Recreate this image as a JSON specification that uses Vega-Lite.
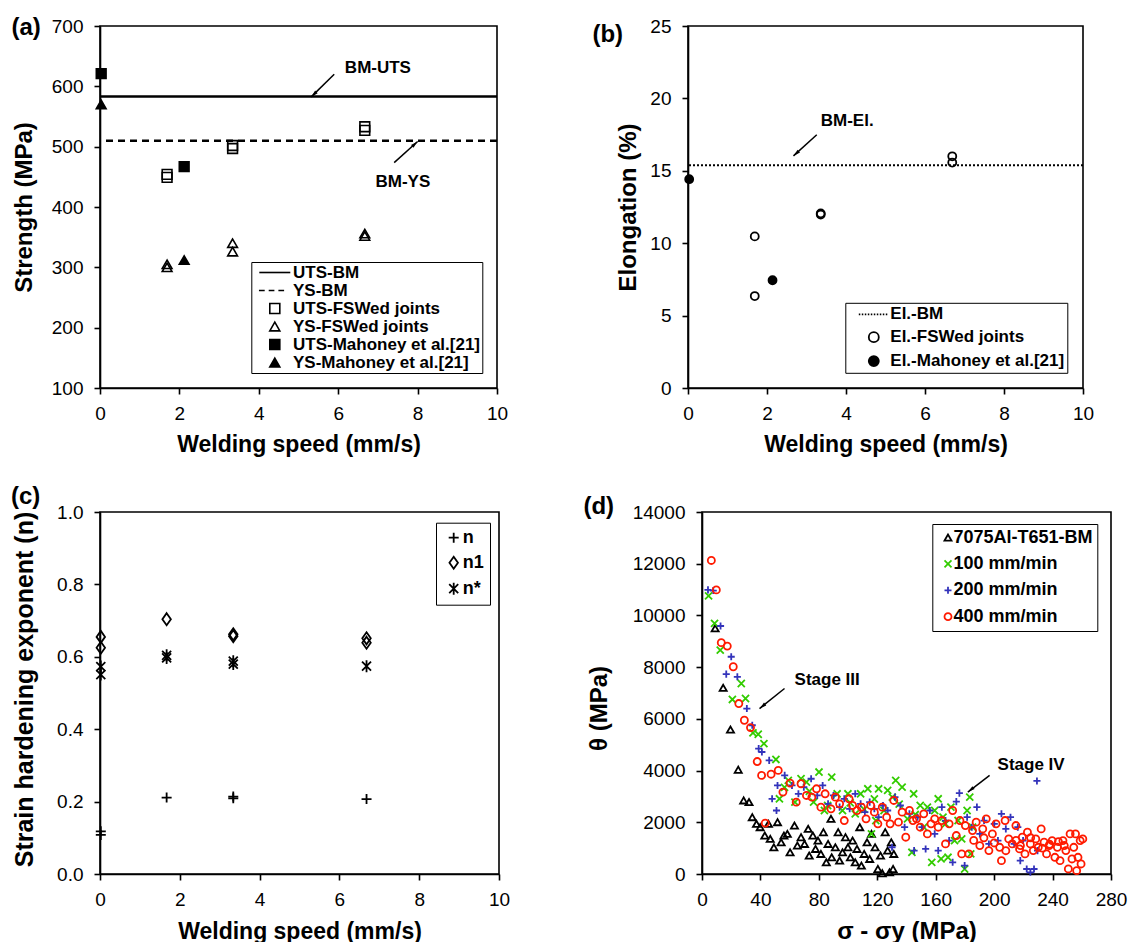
{
"$schema":"https://vega.github.io/schema/vega-lite/v6.json",
"background":"white",
"padding":{"left":10,"top":15,"right":0,"bottom":0},
"spacing":26,
"resolve":{"scale":{"shape":"independent","fill":"independent","color":"independent","strokeDash":"independent"},"legend":{"shape":"independent","fill":"independent","color":"independent","strokeDash":"independent"}},
"config":{
 "font":"Liberation Sans",
 "view":{"stroke":"black","strokeWidth":1.6},
 "axis":{"grid":false,"domainColor":"black","domainWidth":1.6,"tickColor":"black","tickWidth":1.6,"tickSize":6,"labelFont":"Liberation Sans","labelFontSize":19,"labelColor":"black","labelFlush":false,"labelOverlap":false,"titleFont":"Liberation Sans","titleFontSize":23,"titleFontWeight":"bold","titleColor":"black"},
 "axisX":{"labelPadding":10},
 "axisY":{"labelPadding":11},
 "legend":{"labelFont":"Liberation Sans","labelFontWeight":"bold","labelColor":"black","labelLimit":400,"strokeColor":"black","fillColor":"white","cornerRadius":0},
 "text":{"font":"Liberation Sans","fontWeight":"bold","color":"black"}
},
"datasets":{
 "d":[
  {"series":"7075Al-T651-BM","x":9.0,"y":9500},{"series":"7075Al-T651-BM","x":14.5,"y":7200},{"series":"7075Al-T651-BM","x":19.5,"y":5585},{"series":"7075Al-T651-BM","x":24.8,"y":4033},{"series":"7075Al-T651-BM","x":28.5,"y":2844},{"series":"7075Al-T651-BM","x":32.2,"y":2780},{"series":"7075Al-T651-BM","x":34.4,"y":2198},{"series":"7075Al-T651-BM","x":37.3,"y":1939},{"series":"7075Al-T651-BM","x":39.8,"y":1810},{"series":"7075Al-T651-BM","x":43,"y":1487},{"series":"7075Al-T651-BM","x":45.5,"y":1939},{"series":"7075Al-T651-BM","x":46.7,"y":1357},{"series":"7075Al-T651-BM","x":49.2,"y":1034},{"series":"7075Al-T651-BM","x":51.7,"y":2004},{"series":"7075Al-T651-BM","x":54.2,"y":1228},{"series":"7075Al-T651-BM","x":56.1,"y":1487},{"series":"7075Al-T651-BM","x":58.4,"y":1551},{"series":"7075Al-T651-BM","x":60.3,"y":840},{"series":"7075Al-T651-BM","x":63.3,"y":1874},{"series":"7075Al-T651-BM","x":65.3,"y":1099},{"series":"7075Al-T651-BM","x":67.8,"y":1422},{"series":"7075Al-T651-BM","x":70.2,"y":1163},{"series":"7075Al-T651-BM","x":72.7,"y":1745},{"series":"7075Al-T651-BM","x":73.4,"y":711},{"series":"7075Al-T651-BM","x":75.9,"y":1487},{"series":"7075Al-T651-BM","x":77.7,"y":970},{"series":"7075Al-T651-BM","x":79.4,"y":1293},{"series":"7075Al-T651-BM","x":81.4,"y":776},{"series":"7075Al-T651-BM","x":83.1,"y":1616},{"series":"7075Al-T651-BM","x":85.1,"y":452},{"series":"7075Al-T651-BM","x":86.3,"y":1163},{"series":"7075Al-T651-BM","x":88.3,"y":2133},{"series":"7075Al-T651-BM","x":88.8,"y":646},{"series":"7075Al-T651-BM","x":91.3,"y":1034},{"series":"7075Al-T651-BM","x":93.2,"y":1616},{"series":"7075Al-T651-BM","x":94.2,"y":517},{"series":"7075Al-T651-BM","x":96.2,"y":840},{"series":"7075Al-T651-BM","x":98.2,"y":1422},{"series":"7075Al-T651-BM","x":99.9,"y":1034},{"series":"7075Al-T651-BM","x":101.6,"y":646},{"series":"7075Al-T651-BM","x":103.1,"y":1293},{"series":"7075Al-T651-BM","x":104.9,"y":452},{"series":"7075Al-T651-BM","x":106.1,"y":970},{"series":"7075Al-T651-BM","x":108,"y":1810},{"series":"7075Al-T651-BM","x":109.1,"y":323},{"series":"7075Al-T651-BM","x":111,"y":776},{"series":"7075Al-T651-BM","x":113,"y":1228},{"series":"7075Al-T651-BM","x":114.8,"y":582},{"series":"7075Al-T651-BM","x":116,"y":1551},{"series":"7075Al-T651-BM","x":118.5,"y":1034},{"series":"7075Al-T651-BM","x":120.4,"y":194},{"series":"7075Al-T651-BM","x":122.2,"y":711},{"series":"7075Al-T651-BM","x":123.4,"y":30},{"series":"7075Al-T651-BM","x":125.4,"y":1616},{"series":"7075Al-T651-BM","x":127.1,"y":905},{"series":"7075Al-T651-BM","x":128.4,"y":65},{"series":"7075Al-T651-BM","x":129.6,"y":1228},{"series":"7075Al-T651-BM","x":130.8,"y":194},{"series":"7075Al-T651-BM","x":131.3,"y":776},
  {"series":"100 mm/min","x":4.5,"y":10755},{"series":"100 mm/min","x":8.6,"y":9695},{"series":"100 mm/min","x":12.5,"y":8660},{"series":"100 mm/min","x":20.8,"y":6750},{"series":"100 mm/min","x":26.9,"y":7368},{"series":"100 mm/min","x":29.8,"y":6787},{"series":"100 mm/min","x":34.9,"y":5456},{"series":"100 mm/min","x":38.5,"y":5404},{"series":"100 mm/min","x":42.4,"y":5042},{"series":"100 mm/min","x":50.6,"y":4430},{"series":"100 mm/min","x":53,"y":2909},{"series":"100 mm/min","x":56.5,"y":3350},{"series":"100 mm/min","x":59.1,"y":3620},{"series":"100 mm/min","x":63.6,"y":2779},{"series":"100 mm/min","x":67.8,"y":3684},{"series":"100 mm/min","x":71.5,"y":3555},{"series":"100 mm/min","x":73.5,"y":3200},{"series":"100 mm/min","x":76.4,"y":2779},{"series":"100 mm/min","x":80.1,"y":3943},{"series":"100 mm/min","x":83.8,"y":2456},{"series":"100 mm/min","x":86,"y":2650},{"series":"100 mm/min","x":88.8,"y":3749},{"series":"100 mm/min","x":92.5,"y":3102},{"series":"100 mm/min","x":96.2,"y":2456},{"series":"100 mm/min","x":99.9,"y":3102},{"series":"100 mm/min","x":101.5,"y":2750},{"series":"100 mm/min","x":104.9,"y":2327},{"series":"100 mm/min","x":108.6,"y":3102},{"series":"100 mm/min","x":111,"y":2500},{"series":"100 mm/min","x":113.5,"y":3296},{"series":"100 mm/min","x":116,"y":1551},{"series":"100 mm/min","x":118,"y":2900},{"series":"100 mm/min","x":119,"y":2068},{"series":"100 mm/min","x":120.9,"y":3296},{"series":"100 mm/min","x":124.6,"y":2456},{"series":"100 mm/min","x":127.1,"y":3232},{"series":"100 mm/min","x":130.3,"y":2973},{"series":"100 mm/min","x":132.6,"y":3620},{"series":"100 mm/min","x":135,"y":2700},{"series":"100 mm/min","x":137,"y":3361},{"series":"100 mm/min","x":140.7,"y":2133},{"series":"100 mm/min","x":143.7,"y":840},{"series":"100 mm/min","x":144.9,"y":3102},{"series":"100 mm/min","x":146,"y":2300},{"series":"100 mm/min","x":149.4,"y":2650},{"series":"100 mm/min","x":151.8,"y":1810},{"series":"100 mm/min","x":154.3,"y":2585},{"series":"100 mm/min","x":157.3,"y":452},{"series":"100 mm/min","x":159.3,"y":2456},{"series":"100 mm/min","x":161.7,"y":2909},{"series":"100 mm/min","x":163.7,"y":582},{"series":"100 mm/min","x":165,"y":2200},{"series":"100 mm/min","x":166.7,"y":1939},{"series":"100 mm/min","x":168.4,"y":646},{"series":"100 mm/min","x":170.4,"y":2585},{"series":"100 mm/min","x":172.9,"y":1293},{"series":"100 mm/min","x":175.3,"y":2068},{"series":"100 mm/min","x":177.8,"y":1357},{"series":"100 mm/min","x":179.8,"y":194},{"series":"100 mm/min","x":181.5,"y":2456},{"series":"100 mm/min","x":183.3,"y":2973},{"series":"100 mm/min","x":184,"y":776},{"series":"100 mm/min","x":185.2,"y":1810},
  {"series":"200 mm/min","x":4.1,"y":10987},{"series":"200 mm/min","x":7.7,"y":10962},{"series":"200 mm/min","x":12.7,"y":9592},{"series":"200 mm/min","x":16.6,"y":7731},{"series":"200 mm/min","x":20,"y":8402},{"series":"200 mm/min","x":24.2,"y":7626},{"series":"200 mm/min","x":30.7,"y":6399},{"series":"200 mm/min","x":34.4,"y":5753},{"series":"200 mm/min","x":38.8,"y":4848},{"series":"200 mm/min","x":41,"y":4718},{"series":"200 mm/min","x":46,"y":4395},{"series":"200 mm/min","x":48,"y":2909},{"series":"200 mm/min","x":51,"y":2456},{"series":"200 mm/min","x":51.7,"y":3426},{"series":"200 mm/min","x":56.6,"y":3813},{"series":"200 mm/min","x":61.6,"y":3426},{"series":"200 mm/min","x":66,"y":3102},{"series":"200 mm/min","x":69.7,"y":3361},{"series":"200 mm/min","x":74.7,"y":3684},{"series":"200 mm/min","x":78.9,"y":3038},{"series":"200 mm/min","x":82.6,"y":3426},{"series":"200 mm/min","x":86.3,"y":2714},{"series":"200 mm/min","x":90,"y":3038},{"series":"200 mm/min","x":94.2,"y":2585},{"series":"200 mm/min","x":97.4,"y":2909},{"series":"200 mm/min","x":101.1,"y":2521},{"series":"200 mm/min","x":104.9,"y":3102},{"series":"200 mm/min","x":108.6,"y":2714},{"series":"200 mm/min","x":111.5,"y":2391},{"series":"200 mm/min","x":114.8,"y":2779},{"series":"200 mm/min","x":118,"y":2521},{"series":"200 mm/min","x":120.9,"y":2198},{"series":"200 mm/min","x":123.9,"y":2650},{"series":"200 mm/min","x":127.1,"y":2456},{"series":"200 mm/min","x":130.1,"y":1034},{"series":"200 mm/min","x":132.1,"y":2973},{"series":"200 mm/min","x":135.8,"y":2650},{"series":"200 mm/min","x":138.7,"y":1810},{"series":"200 mm/min","x":142,"y":2327},{"series":"200 mm/min","x":145.2,"y":905},{"series":"200 mm/min","x":147.6,"y":2198},{"series":"200 mm/min","x":150.6,"y":1810},{"series":"200 mm/min","x":153.1,"y":970},{"series":"200 mm/min","x":156,"y":2456},{"series":"200 mm/min","x":159.3,"y":1551},{"series":"200 mm/min","x":161.7,"y":905},{"series":"200 mm/min","x":164.2,"y":2585},{"series":"200 mm/min","x":166.7,"y":2068},{"series":"200 mm/min","x":169.2,"y":1293},{"series":"200 mm/min","x":171.6,"y":452},{"series":"200 mm/min","x":174.1,"y":2800},{"series":"200 mm/min","x":176.2,"y":3129},{"series":"200 mm/min","x":179.8,"y":323},{"series":"200 mm/min","x":181.5,"y":2198},{"series":"200 mm/min","x":184.7,"y":1810},{"series":"200 mm/min","x":188.2,"y":2585},{"series":"200 mm/min","x":190.2,"y":1551},{"series":"200 mm/min","x":193.1,"y":2068},{"series":"200 mm/min","x":196.4,"y":1163},{"series":"200 mm/min","x":200.1,"y":1939},{"series":"200 mm/min","x":202.6,"y":1293},{"series":"200 mm/min","x":205,"y":2327},{"series":"200 mm/min","x":208,"y":1745},{"series":"200 mm/min","x":211.2,"y":2198},{"series":"200 mm/min","x":213.7,"y":1163},{"series":"200 mm/min","x":216.2,"y":1810},{"series":"200 mm/min","x":217.9,"y":517},{"series":"200 mm/min","x":219.8,"y":1293},{"series":"200 mm/min","x":222.3,"y":194},{"series":"200 mm/min","x":224.8,"y":65},{"series":"200 mm/min","x":227.3,"y":194},{"series":"200 mm/min","x":229.3,"y":3600},{"series":"200 mm/min","x":229.7,"y":905},
  {"series":"400 mm/min","x":6.4,"y":12125},{"series":"400 mm/min","x":9.8,"y":10988},{"series":"400 mm/min","x":13.2,"y":8946},{"series":"400 mm/min","x":17.3,"y":8815},{"series":"400 mm/min","x":21.4,"y":8015},{"series":"400 mm/min","x":25.2,"y":6593},{"series":"400 mm/min","x":29,"y":5946},{"series":"400 mm/min","x":33.2,"y":5662},{"series":"400 mm/min","x":37.8,"y":4350},{"series":"400 mm/min","x":40.8,"y":3813},{"series":"400 mm/min","x":43.3,"y":1970},{"series":"400 mm/min","x":47.3,"y":3860},{"series":"400 mm/min","x":52.2,"y":4007},{"series":"400 mm/min","x":55.4,"y":3167},{"series":"400 mm/min","x":60.3,"y":3516},{"series":"400 mm/min","x":64.5,"y":2779},{"series":"400 mm/min","x":67.8,"y":3490},{"series":"400 mm/min","x":71.5,"y":3038},{"series":"400 mm/min","x":75.2,"y":2973},{"series":"400 mm/min","x":78.4,"y":3296},{"series":"400 mm/min","x":81.4,"y":2585},{"series":"400 mm/min","x":84.3,"y":3102},{"series":"400 mm/min","x":88.3,"y":2521},{"series":"400 mm/min","x":91.3,"y":2973},{"series":"400 mm/min","x":94.2,"y":2714},{"series":"400 mm/min","x":97.4,"y":2068},{"series":"400 mm/min","x":100.7,"y":2909},{"series":"400 mm/min","x":103.1,"y":2650},{"series":"400 mm/min","x":106.1,"y":2456},{"series":"400 mm/min","x":109.1,"y":2585},{"series":"400 mm/min","x":112.3,"y":2133},{"series":"400 mm/min","x":115.5,"y":2650},{"series":"400 mm/min","x":118,"y":2391},{"series":"400 mm/min","x":120.4,"y":1939},{"series":"400 mm/min","x":123.4,"y":2585},{"series":"400 mm/min","x":126.4,"y":2198},{"series":"400 mm/min","x":128.8,"y":1939},{"series":"400 mm/min","x":131.3,"y":2844},{"series":"400 mm/min","x":134.5,"y":2004},{"series":"400 mm/min","x":137,"y":2391},{"series":"400 mm/min","x":139.5,"y":1422},{"series":"400 mm/min","x":142,"y":2456},{"series":"400 mm/min","x":144.4,"y":2068},{"series":"400 mm/min","x":146.9,"y":2133},{"series":"400 mm/min","x":149.4,"y":1810},{"series":"400 mm/min","x":151.8,"y":2327},{"series":"400 mm/min","x":154.3,"y":1551},{"series":"400 mm/min","x":156.8,"y":1939},{"series":"400 mm/min","x":159.3,"y":2133},{"series":"400 mm/min","x":161.7,"y":1810},{"series":"400 mm/min","x":164.2,"y":2068},{"series":"400 mm/min","x":166.7,"y":1163},{"series":"400 mm/min","x":169.2,"y":1939},{"series":"400 mm/min","x":171.6,"y":2456},{"series":"400 mm/min","x":174.1,"y":1487},{"series":"400 mm/min","x":176.6,"y":2068},{"series":"400 mm/min","x":177.8,"y":776},{"series":"400 mm/min","x":180.3,"y":1874},{"series":"400 mm/min","x":182.7,"y":776},{"series":"400 mm/min","x":185.2,"y":1680},{"series":"400 mm/min","x":186,"y":1300},{"series":"400 mm/min","x":187.7,"y":2004},{"series":"400 mm/min","x":190.2,"y":1099},{"series":"400 mm/min","x":192.2,"y":1745},{"series":"400 mm/min","x":193,"y":1400},{"series":"400 mm/min","x":194.6,"y":2133},{"series":"400 mm/min","x":196.4,"y":905},{"series":"400 mm/min","x":198.8,"y":1551},{"series":"400 mm/min","x":200,"y":1200},{"series":"400 mm/min","x":201.3,"y":1939},{"series":"400 mm/min","x":203.8,"y":1034},{"series":"400 mm/min","x":205,"y":517},{"series":"400 mm/min","x":207.5,"y":2068},{"series":"400 mm/min","x":208,"y":900},{"series":"400 mm/min","x":210,"y":1357},{"series":"400 mm/min","x":212.4,"y":1163},{"series":"400 mm/min","x":214.9,"y":1874},{"series":"400 mm/min","x":215,"y":1300},{"series":"400 mm/min","x":217.4,"y":970},{"series":"400 mm/min","x":218,"y":1100},{"series":"400 mm/min","x":219.3,"y":1422},{"series":"400 mm/min","x":221.1,"y":776},{"series":"400 mm/min","x":222.8,"y":1616},{"series":"400 mm/min","x":224.8,"y":1163},{"series":"400 mm/min","x":225,"y":1400},{"series":"400 mm/min","x":226.8,"y":905},{"series":"400 mm/min","x":228.5,"y":1357},{"series":"400 mm/min","x":230.2,"y":1034},{"series":"400 mm/min","x":232.2,"y":1745},{"series":"400 mm/min","x":233,"y":1000},{"series":"400 mm/min","x":234.2,"y":1228},{"series":"400 mm/min","x":235.9,"y":776},{"series":"400 mm/min","x":237.7,"y":1099},{"series":"400 mm/min","x":238,"y":1150},{"series":"400 mm/min","x":239.7,"y":1293},{"series":"400 mm/min","x":241.6,"y":646},{"series":"400 mm/min","x":243.3,"y":1034},{"series":"400 mm/min","x":244,"y":1250},{"series":"400 mm/min","x":245.1,"y":517},{"series":"400 mm/min","x":247.1,"y":1293},{"series":"400 mm/min","x":248,"y":1100},{"series":"400 mm/min","x":249.1,"y":905},{"series":"400 mm/min","x":250.8,"y":194},{"series":"400 mm/min","x":252,"y":1551},{"series":"400 mm/min","x":253.3,"y":582},{"series":"400 mm/min","x":254.5,"y":1034},{"series":"400 mm/min","x":255.7,"y":1551},{"series":"400 mm/min","x":256.5,"y":129},{"series":"400 mm/min","x":257.4,"y":646},{"series":"400 mm/min","x":258.9,"y":1293},{"series":"400 mm/min","x":259.5,"y":388},{"series":"400 mm/min","x":260.7,"y":1357}
 ]
},
"vconcat":[
 {"bounds":"flush","spacing":191,
  "resolve":{"scale":{"shape":"independent","fill":"independent","color":"independent","strokeDash":"independent"},"legend":{"shape":"independent","fill":"independent","color":"independent","strokeDash":"independent"}},
  "hconcat":[
  {"width":397,"height":362,
   "layer":[
    {"data":{"values":[{"series":"UTS-BM","value":583},{"series":"YS-BM","value":510}]},
     "mark":{"type":"rule","color":"black","strokeWidth":2.5},
     "encoding":{"y":{"field":"value","type":"quantitative","scale":{"domain":[100,700],"nice":false}},
       "strokeDash":{"field":"series","type":"nominal","scale":{"domain":["UTS-BM","YS-BM"],"range":[[1,0],[7,5]]},"legend":null}}},
    {"data":{"values":[
      {"series":"UTS-FSWed joints","x":1.69,"y":449},{"series":"UTS-FSWed joints","x":1.69,"y":454},{"series":"UTS-FSWed joints","x":3.34,"y":497},{"series":"UTS-FSWed joints","x":3.34,"y":502},{"series":"UTS-FSWed joints","x":6.67,"y":527},{"series":"UTS-FSWed joints","x":6.67,"y":533},
      {"series":"YS-FSWed joints","x":1.69,"y":300},{"series":"YS-FSWed joints","x":1.69,"y":305},{"series":"YS-FSWed joints","x":3.34,"y":326},{"series":"YS-FSWed joints","x":3.34,"y":340},{"series":"YS-FSWed joints","x":6.67,"y":352},{"series":"YS-FSWed joints","x":6.67,"y":356},
      {"series":"UTS-Mahoney et al.[21]","x":0.03,"y":621},{"series":"UTS-Mahoney et al.[21]","x":2.12,"y":467},
      {"series":"YS-Mahoney et al.[21]","x":0.03,"y":570},{"series":"YS-Mahoney et al.[21]","x":2.12,"y":312}]},
     "mark":{"type":"point","stroke":"black","strokeWidth":1.6,"opacity":1,"size":95},
     "encoding":{
      "x":{"field":"x","type":"quantitative","scale":{"domain":[0,10],"nice":false},"axis":{"values":[0,2,4,6,8,10],"title":"Welding speed (mm/s)","titleY":63,"titleBaseline":"alphabetic"}},
      "y":{"field":"y","type":"quantitative","scale":{"domain":[100,700],"nice":false},"axis":{"values":[100,200,300,400,500,600,700],"title":"Strength (MPa)","titleX":-68.2,"titleBaseline":"alphabetic","titleFontSize":24}},
      "shape":{"field":"series","type":"nominal","scale":{"domain":["UTS-BM","YS-BM","UTS-FSWed joints","YS-FSWed joints","UTS-Mahoney et al.[21]","YS-Mahoney et al.[21]"],"range":["M-3.1,0H3.1","M-3.17,0H-2.02M-1.22,0H-0.08M0.72,0H1.86","square","triangle-up","square","triangle-up"]},
        "legend":{"title":null,"orient":"none","legendX":151.3,"legendY":236,"padding":2,"symbolOffset":13,"labelOffset":9.7,"rowPadding":0,"labelFontSize":17,"symbolSize":100,"symbolStrokeWidth":1.6}},
      "fill":{"field":"series","type":"nominal","scale":{"domain":["UTS-BM","YS-BM","UTS-FSWed joints","YS-FSWed joints","UTS-Mahoney et al.[21]","YS-Mahoney et al.[21]"],"range":["transparent","transparent","transparent","transparent","black","black"]},
        "legend":{"title":null,"orient":"none","legendX":151.3,"legendY":236,"padding":2,"symbolOffset":13,"labelOffset":9.7,"rowPadding":0,"labelFontSize":17,"symbolSize":100,"symbolStrokeWidth":1.6}}}},
    {"data":{"values":[{"label":"BM-UTS","x":7.0,"y":630},{"label":"BM-YS","x":7.63,"y":441}]},
     "mark":{"type":"text","fontSize":17,"align":"center","baseline":"middle"},
     "encoding":{"x":{"field":"x","type":"quantitative","scale":{"domain":[0,10],"nice":false}},"y":{"field":"y","type":"quantitative","scale":{"domain":[100,700],"nice":false}},"text":{"field":"label"}}},
    {"data":{"values":[{}]},"mark":{"type":"rule","color":"black","strokeWidth":1.5},
     "encoding":{"x":{"datum":5.9,"scale":{"domain":[0,10],"nice":false}},"y":{"datum":620,"scale":{"domain":[100,700],"nice":false}},"x2":{"datum":5.32},"y2":{"datum":582.5}}},
    {"data":{"values":[{}]},"mark":{"type":"point","shape":"M0,0L0.6,2.4L-0.6,2.4Z","filled":true,"color":"black","opacity":1,"size":36,"angle":226},
     "encoding":{"x":{"datum":5.32,"scale":{"domain":[0,10],"nice":false}},"y":{"datum":582.5,"scale":{"domain":[100,700],"nice":false}}}},
    {"data":{"values":[{}]},"mark":{"type":"rule","color":"black","strokeWidth":1.5},
     "encoding":{"x":{"datum":7.41,"scale":{"domain":[0,10],"nice":false}},"y":{"datum":473.6,"scale":{"domain":[100,700],"nice":false}},"x2":{"datum":8.0},"y2":{"datum":508.5}}},
    {"data":{"values":[{}]},"mark":{"type":"point","shape":"M0,0L0.6,2.4L-0.6,2.4Z","filled":true,"color":"black","opacity":1,"size":36,"angle":48},
     "encoding":{"x":{"datum":8.0,"scale":{"domain":[0,10],"nice":false}},"y":{"datum":508.5,"scale":{"domain":[100,700],"nice":false}}}},
    {"data":{"values":[{}]},"mark":{"type":"text","text":"(a)","fontSize":24,"align":"left","baseline":"middle"},
     "encoding":{"x":{"datum":-2.23,"scale":{"domain":[0,10],"nice":false}},"y":{"datum":696.7,"scale":{"domain":[100,700],"nice":false}}}}
   ]},
  {"width":395,"height":362,
   "layer":[
    {"data":{"values":[{"series":"El.-BM","value":15.38}]},
     "mark":{"type":"rule","color":"black","strokeWidth":2,"strokeDash":[2,2]},
     "encoding":{"y":{"field":"value","type":"quantitative","scale":{"domain":[0,25],"nice":false}}}},
    {"data":{"values":[
      {"series":"El.-FSWed joints","x":1.69,"y":10.47},{"series":"El.-FSWed joints","x":1.69,"y":6.35},{"series":"El.-FSWed joints","x":3.36,"y":11.98},{"series":"El.-FSWed joints","x":3.36,"y":12.06},{"series":"El.-FSWed joints","x":6.69,"y":16.0},{"series":"El.-FSWed joints","x":6.69,"y":15.57},
      {"series":"El.-Mahoney et al.[21]","x":0.03,"y":14.42},{"series":"El.-Mahoney et al.[21]","x":2.14,"y":7.44}]},
     "mark":{"type":"point","stroke":"black","strokeWidth":1.8,"opacity":1,"size":64},
     "encoding":{
      "x":{"field":"x","type":"quantitative","scale":{"domain":[0,10],"nice":false},"axis":{"values":[0,2,4,6,8,10],"title":"Welding speed (mm/s)","titleY":63,"titleBaseline":"alphabetic"}},
      "y":{"field":"y","type":"quantitative","scale":{"domain":[0,25],"nice":false},"axis":{"values":[0,5,10,15,20,25],"title":"Elongation (%)","titleX":-52.5,"titleBaseline":"alphabetic","titleFontSize":24}},
      "shape":{"field":"series","type":"nominal","scale":{"domain":["El.-BM","El.-FSWed joints","El.-Mahoney et al.[21]"],"range":["M-3,0H-2.7M-2.4,0H-2.1M-1.8,0H-1.5M-1.2,0H-0.9M-0.6,0H-0.3M0,0H0.3M0.6,0H0.9M1.2,0H1.5M1.8,0H2.1M2.4,0H2.7","circle","circle"]},
        "legend":{"title":null,"orient":"none","legendX":157.3,"legendY":276.8,"padding":3,"symbolOffset":17,"labelOffset":8,"rowPadding":4.9,"labelFontSize":17,"symbolSize":100,"symbolStrokeWidth":1.8}},
      "fill":{"field":"series","type":"nominal","scale":{"domain":["El.-BM","El.-FSWed joints","El.-Mahoney et al.[21]"],"range":["transparent","transparent","black"]},
        "legend":{"title":null,"orient":"none","legendX":157.3,"legendY":276.8,"padding":3,"symbolOffset":17,"labelOffset":8,"rowPadding":4.9,"labelFontSize":17,"symbolSize":100,"symbolStrokeWidth":1.8}}}},
    {"data":{"values":[{"label":"BM-El.","x":4.03,"y":18.43}]},
     "mark":{"type":"text","fontSize":17,"align":"center","baseline":"middle"},
     "encoding":{"x":{"field":"x","type":"quantitative","scale":{"domain":[0,10],"nice":false}},"y":{"field":"y","type":"quantitative","scale":{"domain":[0,25],"nice":false}},"text":{"field":"label"}}},
    {"data":{"values":[{}]},"mark":{"type":"rule","color":"black","strokeWidth":1.5},
     "encoding":{"x":{"datum":3.26,"scale":{"domain":[0,10],"nice":false}},"y":{"datum":17.49,"scale":{"domain":[0,25],"nice":false}},"x2":{"datum":2.67},"y2":{"datum":16.03}}},
    {"data":{"values":[{}]},"mark":{"type":"point","shape":"M0,0L0.6,2.4L-0.6,2.4Z","filled":true,"color":"black","opacity":1,"size":36,"angle":228},
     "encoding":{"x":{"datum":2.67,"scale":{"domain":[0,10],"nice":false}},"y":{"datum":16.03,"scale":{"domain":[0,25],"nice":false}}}},
    {"data":{"values":[{}]},"mark":{"type":"text","text":"(b)","fontSize":24,"align":"left","baseline":"middle"},
     "encoding":{"x":{"datum":-2.42,"scale":{"domain":[0,10],"nice":false}},"y":{"datum":24.36,"scale":{"domain":[0,25],"nice":false}}}}
   ]}
 ]},
 {"bounds":"flush","spacing":203,
  "resolve":{"scale":{"shape":"independent","fill":"independent","color":"independent","strokeDash":"independent"},"legend":{"shape":"independent","fill":"independent","color":"independent","strokeDash":"independent"}},
  "hconcat":[
  {"width":399,"height":362,
   "layer":[
    {"data":{"values":[
      {"series":"n","x":0.02,"y":0.118},{"series":"n","x":0.02,"y":0.108},{"series":"n","x":1.67,"y":0.211},{"series":"n","x":3.34,"y":0.214},{"series":"n","x":3.34,"y":0.209},{"series":"n","x":6.68,"y":0.207},
      {"series":"n1","x":0.02,"y":0.655},{"series":"n1","x":0.02,"y":0.625},{"series":"n1","x":1.67,"y":0.704},{"series":"n1","x":3.34,"y":0.662},{"series":"n1","x":3.34,"y":0.657},{"series":"n1","x":6.68,"y":0.651},{"series":"n1","x":6.68,"y":0.639},
      {"series":"n*","x":0.02,"y":0.573},{"series":"n*","x":0.02,"y":0.551},{"series":"n*","x":1.67,"y":0.604},{"series":"n*","x":1.67,"y":0.597},{"series":"n*","x":3.34,"y":0.588},{"series":"n*","x":3.34,"y":0.580},{"series":"n*","x":6.68,"y":0.574}]},
     "mark":{"type":"point","stroke":"black","fill":"transparent","strokeWidth":1.8,"opacity":1,"size":100},
     "encoding":{
      "x":{"field":"x","type":"quantitative","scale":{"domain":[0,10],"nice":false},"axis":{"values":[0,2,4,6,8,10],"title":"Welding speed (mm/s)","titleY":64,"titleBaseline":"alphabetic"}},
      "y":{"field":"y","type":"quantitative","scale":{"domain":[0,1],"nice":false},"axis":{"values":[0,0.2,0.4,0.6,0.8,1.0],"format":".1f","title":"Strain hardening exponent (n)","titleX":-67.4,"titleY":177,"titleBaseline":"alphabetic","titleFontSize":25}},
      "shape":{"field":"series","type":"nominal","scale":{"domain":["n","n1","n*"],"range":["M-1,0H1M0,-1V1","M0,-1.2L0.85,0L0,1.2L-0.85,0Z","M-0.9,-0.9L0.9,0.9M-0.9,0.9L0.9,-0.9M0,-1.2V1.2"]},
        "legend":{"title":null,"orient":"none","legendX":336,"legendY":10.7,"padding":6,"symbolOffset":2.7,"labelOffset":0,"rowPadding":6,"labelFontSize":18,"symbolSize":100,"symbolStrokeWidth":1.8}}}},
    {"data":{"values":[{}]},"mark":{"type":"text","text":"(c)","fontSize":24,"align":"left","baseline":"middle"},
     "encoding":{"x":{"datum":-2.23,"scale":{"domain":[0,10],"nice":false}},"y":{"datum":1.042,"scale":{"domain":[0,1],"nice":false}}}}
   ]},
  {"width":409,"height":362,
   "layer":[
    {"data":{"name":"d"},
     "mark":{"type":"point","filled":false,"strokeWidth":1.8,"opacity":1,"size":50},
     "encoding":{
      "x":{"field":"x","type":"quantitative","scale":{"domain":[0,280],"nice":false},"axis":{"values":[0,40,80,120,160,200,240,280],"title":"σ - σy (MPa)","titleY":64,"titleBaseline":"alphabetic","titleFontSize":24}},
      "y":{"field":"y","type":"quantitative","scale":{"domain":[0,14000],"nice":false},"axis":{"values":[0,2000,4000,6000,8000,10000,12000,14000],"format":"d","title":"θ (MPa)","titleX":-95.5,"titleY":196,"titleBaseline":"alphabetic","titleFontSize":24}},
      "color":{"field":"series","type":"nominal","scale":{"domain":["7075Al-T651-BM","100 mm/min","200 mm/min","400 mm/min"],"range":["black","#33cc00","#3333bb","#ff1a00"]},
        "legend":{"title":null,"orient":"none","legendX":230.3,"legendY":12,"padding":4.5,"symbolOffset":2.2,"labelOffset":-3.5,"rowPadding":8.4,"labelFontSize":18,"symbolSize":49,"symbolStrokeWidth":1.8}},
      "shape":{"field":"series","type":"nominal","scale":{"domain":["7075Al-T651-BM","100 mm/min","200 mm/min","400 mm/min"],"range":["triangle-up","M-1,-1L1,1M-1,1L1,-1","M-1,0H1M0,-1V1","circle"]},
        "legend":{"title":null,"orient":"none","legendX":230.3,"legendY":12,"padding":4.5,"symbolOffset":2.2,"labelOffset":-3.5,"rowPadding":8.4,"labelFontSize":18,"symbolSize":49,"symbolStrokeWidth":1.8}}}},
    {"data":{"values":[{"label":"Stage III","x":85.7,"y":7496},{"label":"Stage IV","x":225.3,"y":4200}]},
     "mark":{"type":"text","fontSize":17,"align":"center","baseline":"middle"},
     "encoding":{"x":{"field":"x","type":"quantitative","scale":{"domain":[0,280],"nice":false}},"y":{"field":"y","type":"quantitative","scale":{"domain":[0,14000],"nice":false}},"text":{"field":"label"}}},
    {"data":{"values":[{}]},"mark":{"type":"rule","color":"black","strokeWidth":1.5},
     "encoding":{"x":{"datum":56.5,"scale":{"domain":[0,280],"nice":false}},"y":{"datum":7174,"scale":{"domain":[0,14000],"nice":false}},"x2":{"datum":39.4},"y2":{"datum":6399}}},
    {"data":{"values":[{}]},"mark":{"type":"point","shape":"M0,0L0.6,2.4L-0.6,2.4Z","filled":true,"color":"black","opacity":1,"size":36,"angle":231},
     "encoding":{"x":{"datum":39.4,"scale":{"domain":[0,280],"nice":false}},"y":{"datum":6399,"scale":{"domain":[0,14000],"nice":false}}}},
    {"data":{"values":[{}]},"mark":{"type":"rule","color":"black","strokeWidth":1.5},
     "encoding":{"x":{"datum":196.9,"scale":{"domain":[0,280],"nice":false}},"y":{"datum":3812,"scale":{"domain":[0,14000],"nice":false}},"x2":{"datum":182.0},"y2":{"datum":3168}}},
    {"data":{"values":[{}]},"mark":{"type":"point","shape":"M0,0L0.6,2.4L-0.6,2.4Z","filled":true,"color":"black","opacity":1,"size":36,"angle":232},
     "encoding":{"x":{"datum":182.0,"scale":{"domain":[0,280],"nice":false}},"y":{"datum":3168,"scale":{"domain":[0,14000],"nice":false}}}},
    {"data":{"values":[{}]},"mark":{"type":"text","text":"(d)","fontSize":24,"align":"left","baseline":"middle"},
     "encoding":{"x":{"datum":-81.2,"scale":{"domain":[0,280],"nice":false}},"y":{"datum":14194,"scale":{"domain":[0,14000],"nice":false}}}}
   ]}
 ]}
]
}
